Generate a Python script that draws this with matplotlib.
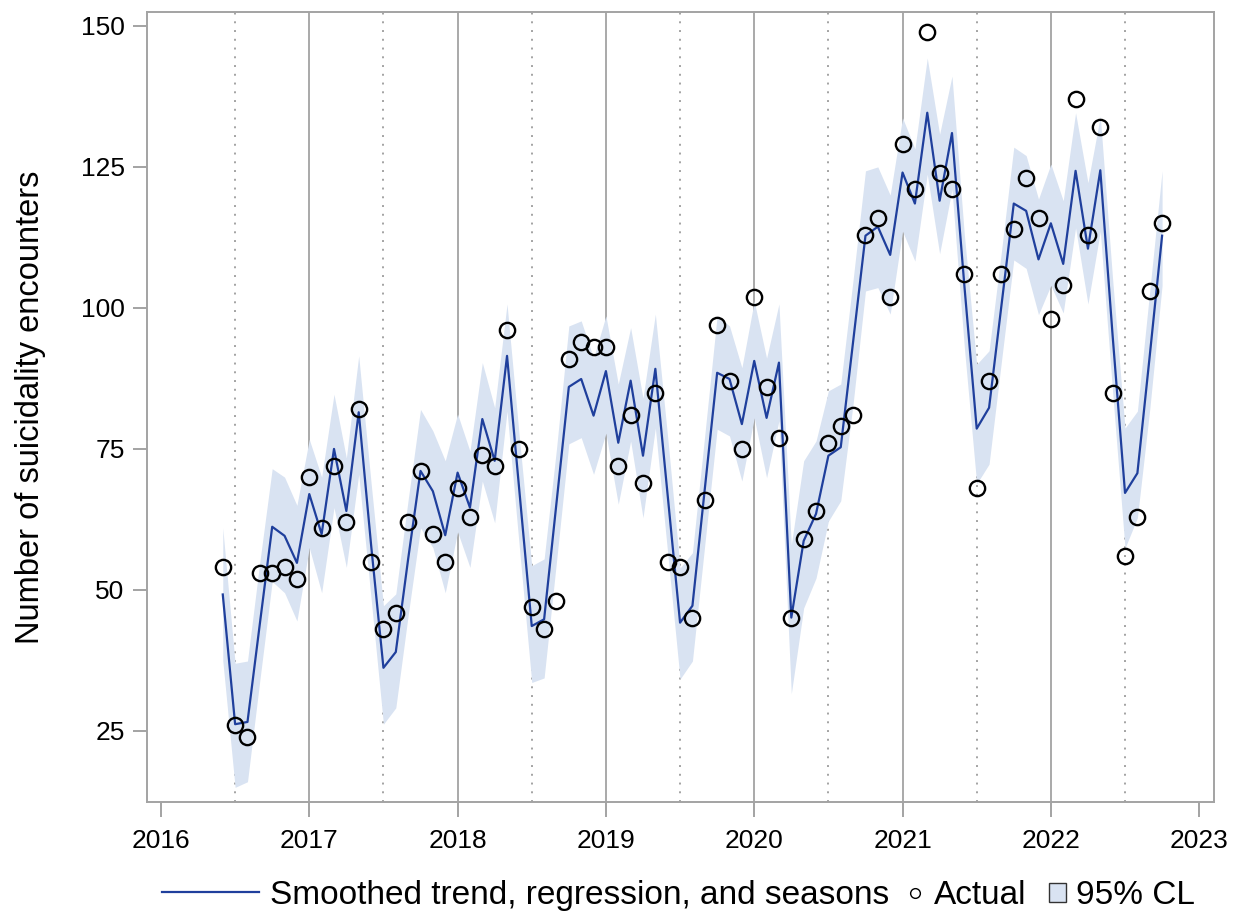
import matplotlib
matplotlib.use('Agg')
import matplotlib.pyplot as plt
from matplotlib.lines import Line2D
from matplotlib.patches import Patch
import numpy as np
import pandas as pd

plt.rcParams['font.family'] = ['Liberation Sans', 'DejaVu Sans']

# monthly series, Jun 2016 .. Oct 2022
months = pd.date_range('2016-06-01', '2022-10-01', freq='MS')

actual = [54, 26, 24, 53, 53, 54, 52,
          70, 61, 72, 62, 82, 55, 43, 46, 62, 71, 60, 55,
          68, 63, 74, 72, 96, 75, 47, 43, 48, 91, 94, 93,
          93, 72, 81, 69, 85, 55, 54, 45, 66, 97, 87, 75,
          102, 86, 77, 45, 59, 64, 76, 79, 81, 113, 116, 102,
          129, 121, 149, 124, 121, 106, 68, 87, 106, 114, 123, 116,
          98, 104, 137, 113, 132, 85, 56, 63, 103, 115]

smoothed = [49.2, 26.2, 26.6, 44, 61.2, 59.6, 54.8,
            67, 59.9, 75, 64, 81.5, 58, 36.2, 39, 55.5, 71.1, 67.5, 59.7,
            70.8, 64.6, 80.3, 72.9, 91.5, 67.5, 43.6, 44.8, 65.4, 86, 87.4, 80.9,
            88.8, 76.1, 87.1, 73.8, 89.2, 66.7, 44.2, 47.2, 67.9, 88.5, 87.4, 79.4,
            90.6, 80.5, 90.3, 45.1, 58.7, 63.5, 73.8, 75.3, 94, 112.8, 114.4, 109.4,
            124, 118.5, 134.6, 119, 131, 104, 78.6, 82.3, 100.4, 118.5, 117.2, 108.6,
            115, 107.8, 124.3, 110.5, 124.4, 95, 67.2, 70.7, 91.5, 112.8]

lower_cl = [37.5, 15, 16, 34, 51.5, 49.5, 44.5,
            57.5, 49.5, 64.6, 54, 70.5, 48.5, 26.2, 29.1, 45.5, 61, 57.5, 49.5,
            60.3, 54, 69.3, 61.9, 81.7, 57.5, 33.6, 34.4, 55, 75.9, 77, 70.5,
            77.8, 65.2, 76.4, 62.8, 78.7, 56.5, 34.2, 37.4, 58, 78.5, 77.3, 69.3,
            80.5, 69.9, 80, 31.6, 46.8, 52.1, 62.2, 65.8, 83, 103, 103.6, 98.9,
            113.6, 108.3, 123.7, 109.6, 121, 93, 68.8, 72.3, 90.5, 108.5, 107, 98.8,
            104, 99.1, 114.2, 100.7, 113.6, 85, 57.4, 62.8, 82, 104]

upper_cl = [61, 37, 37.4, 55, 71.5, 70, 65,
            76.7, 70, 84.7, 73.4, 91.5, 69, 47.2, 49.3, 66, 82, 78.2, 72.9,
            81.2, 74.6, 90.3, 82.3, 100.7, 77, 54.3, 55.5, 75, 96.8, 97.7, 91.1,
            98.6, 86.5, 96.5, 84, 98.9, 77, 53.9, 56.6, 77.5, 98.6, 96.8, 89.4,
            101.2, 91.1, 100.7, 58, 72.9, 76.4, 85.3, 86.5, 105, 124.3, 125, 120,
            133.7, 128.2, 144.3, 130.8, 141.1, 113, 90, 92.4, 110, 128.5, 127, 119.3,
            125.5, 119, 134.6, 122.2, 134, 105, 78.7, 81.7, 103, 124.3]

year_ticks = [2016, 2017, 2018, 2019, 2020, 2021, 2022, 2023]
y_ticks = [25, 50, 75, 100, 125, 150]

t = months.year + (months.month - 1) / 12.0

line_col = '#1f3f9c'
band_col = '#d9e3f2'
grid_col = '#a3a3a3'

fig = plt.figure(figsize=(12.33, 9.13), dpi=100)
ax = fig.add_axes([0.119, 0.1219, 0.8656, 0.8646])

# reference lines: solid at year starts, dotted at mid-years
for yr in year_ticks[1:-1]:
    ax.axvline(yr, color=grid_col, lw=1.3, zorder=1)
for yr in year_ticks[:-1]:
    ax.axvline(yr + 0.5, color=grid_col, lw=1.4, ls=(0, (1, 3.5)), zorder=1)

ax.fill_between(t, lower_cl, upper_cl, color=band_col, lw=0, zorder=2)
ax.plot(t, smoothed, color=line_col, lw=1.6, zorder=3)
ax.plot(t, actual, ls='none', marker='o', ms=11, mfc='none', mec='black',
        mew=1.7, zorder=4)

ax.set_xlim(2015.904, 2023.10)
ax.set_ylim(12.46, 152.4)
ax.set_xticks(year_ticks)
ax.set_yticks(y_ticks)
ax.tick_params(axis='both', labelsize=19, color=grid_col, width=1.4)
ax.tick_params(axis='x', length=11, pad=9)
ax.tick_params(axis='y', length=10, pad=6)
for sp in ax.spines.values():
    sp.set_color(grid_col)
    sp.set_linewidth(1.4)
ax.set_ylabel('Number of suicidality encounters', fontsize=23.5, labelpad=25)

# legend, in two parts so the marker entries stay compact
leg_y = 0.019
h_line = [Line2D([], [], color=line_col, lw=1.6)]
leg1 = fig.legend(h_line, ['Smoothed trend, regression, and seasons'],
                  loc='center left', bbox_to_anchor=(0.1, leg_y),
                  frameon=False, fontsize=24, handlelength=2.9,
                  handletextpad=0.33, borderpad=0, borderaxespad=0)
h_pts = [Line2D([], [], ls='none', marker='o', ms=7, mfc='none', mec='black', mew=1.0),
         Patch(facecolor=band_col, edgecolor='#333333', lw=1.0)]
leg2 = fig.legend(h_pts, ['Actual', '95% CL'], ncol=2,
                  loc='center left', bbox_to_anchor=(0.7, leg_y),
                  frameon=False, fontsize=24, handlelength=0.5, handleheight=0.5,
                  handletextpad=0.3, columnspacing=0.7, borderpad=0,
                  borderaxespad=0)

# place the second legend part right after the first
fig.canvas.draw()
r = fig.canvas.get_renderer()
w1 = leg1.get_window_extent(r).width
gap = 18
start = 162
W = fig.bbox.width
leg1.set_bbox_to_anchor((start / W, leg_y), transform=fig.transFigure)
leg2.set_bbox_to_anchor(((start + w1 + gap) / W, leg_y), transform=fig.transFigure)

fig.savefig('out.png', dpi=100)
